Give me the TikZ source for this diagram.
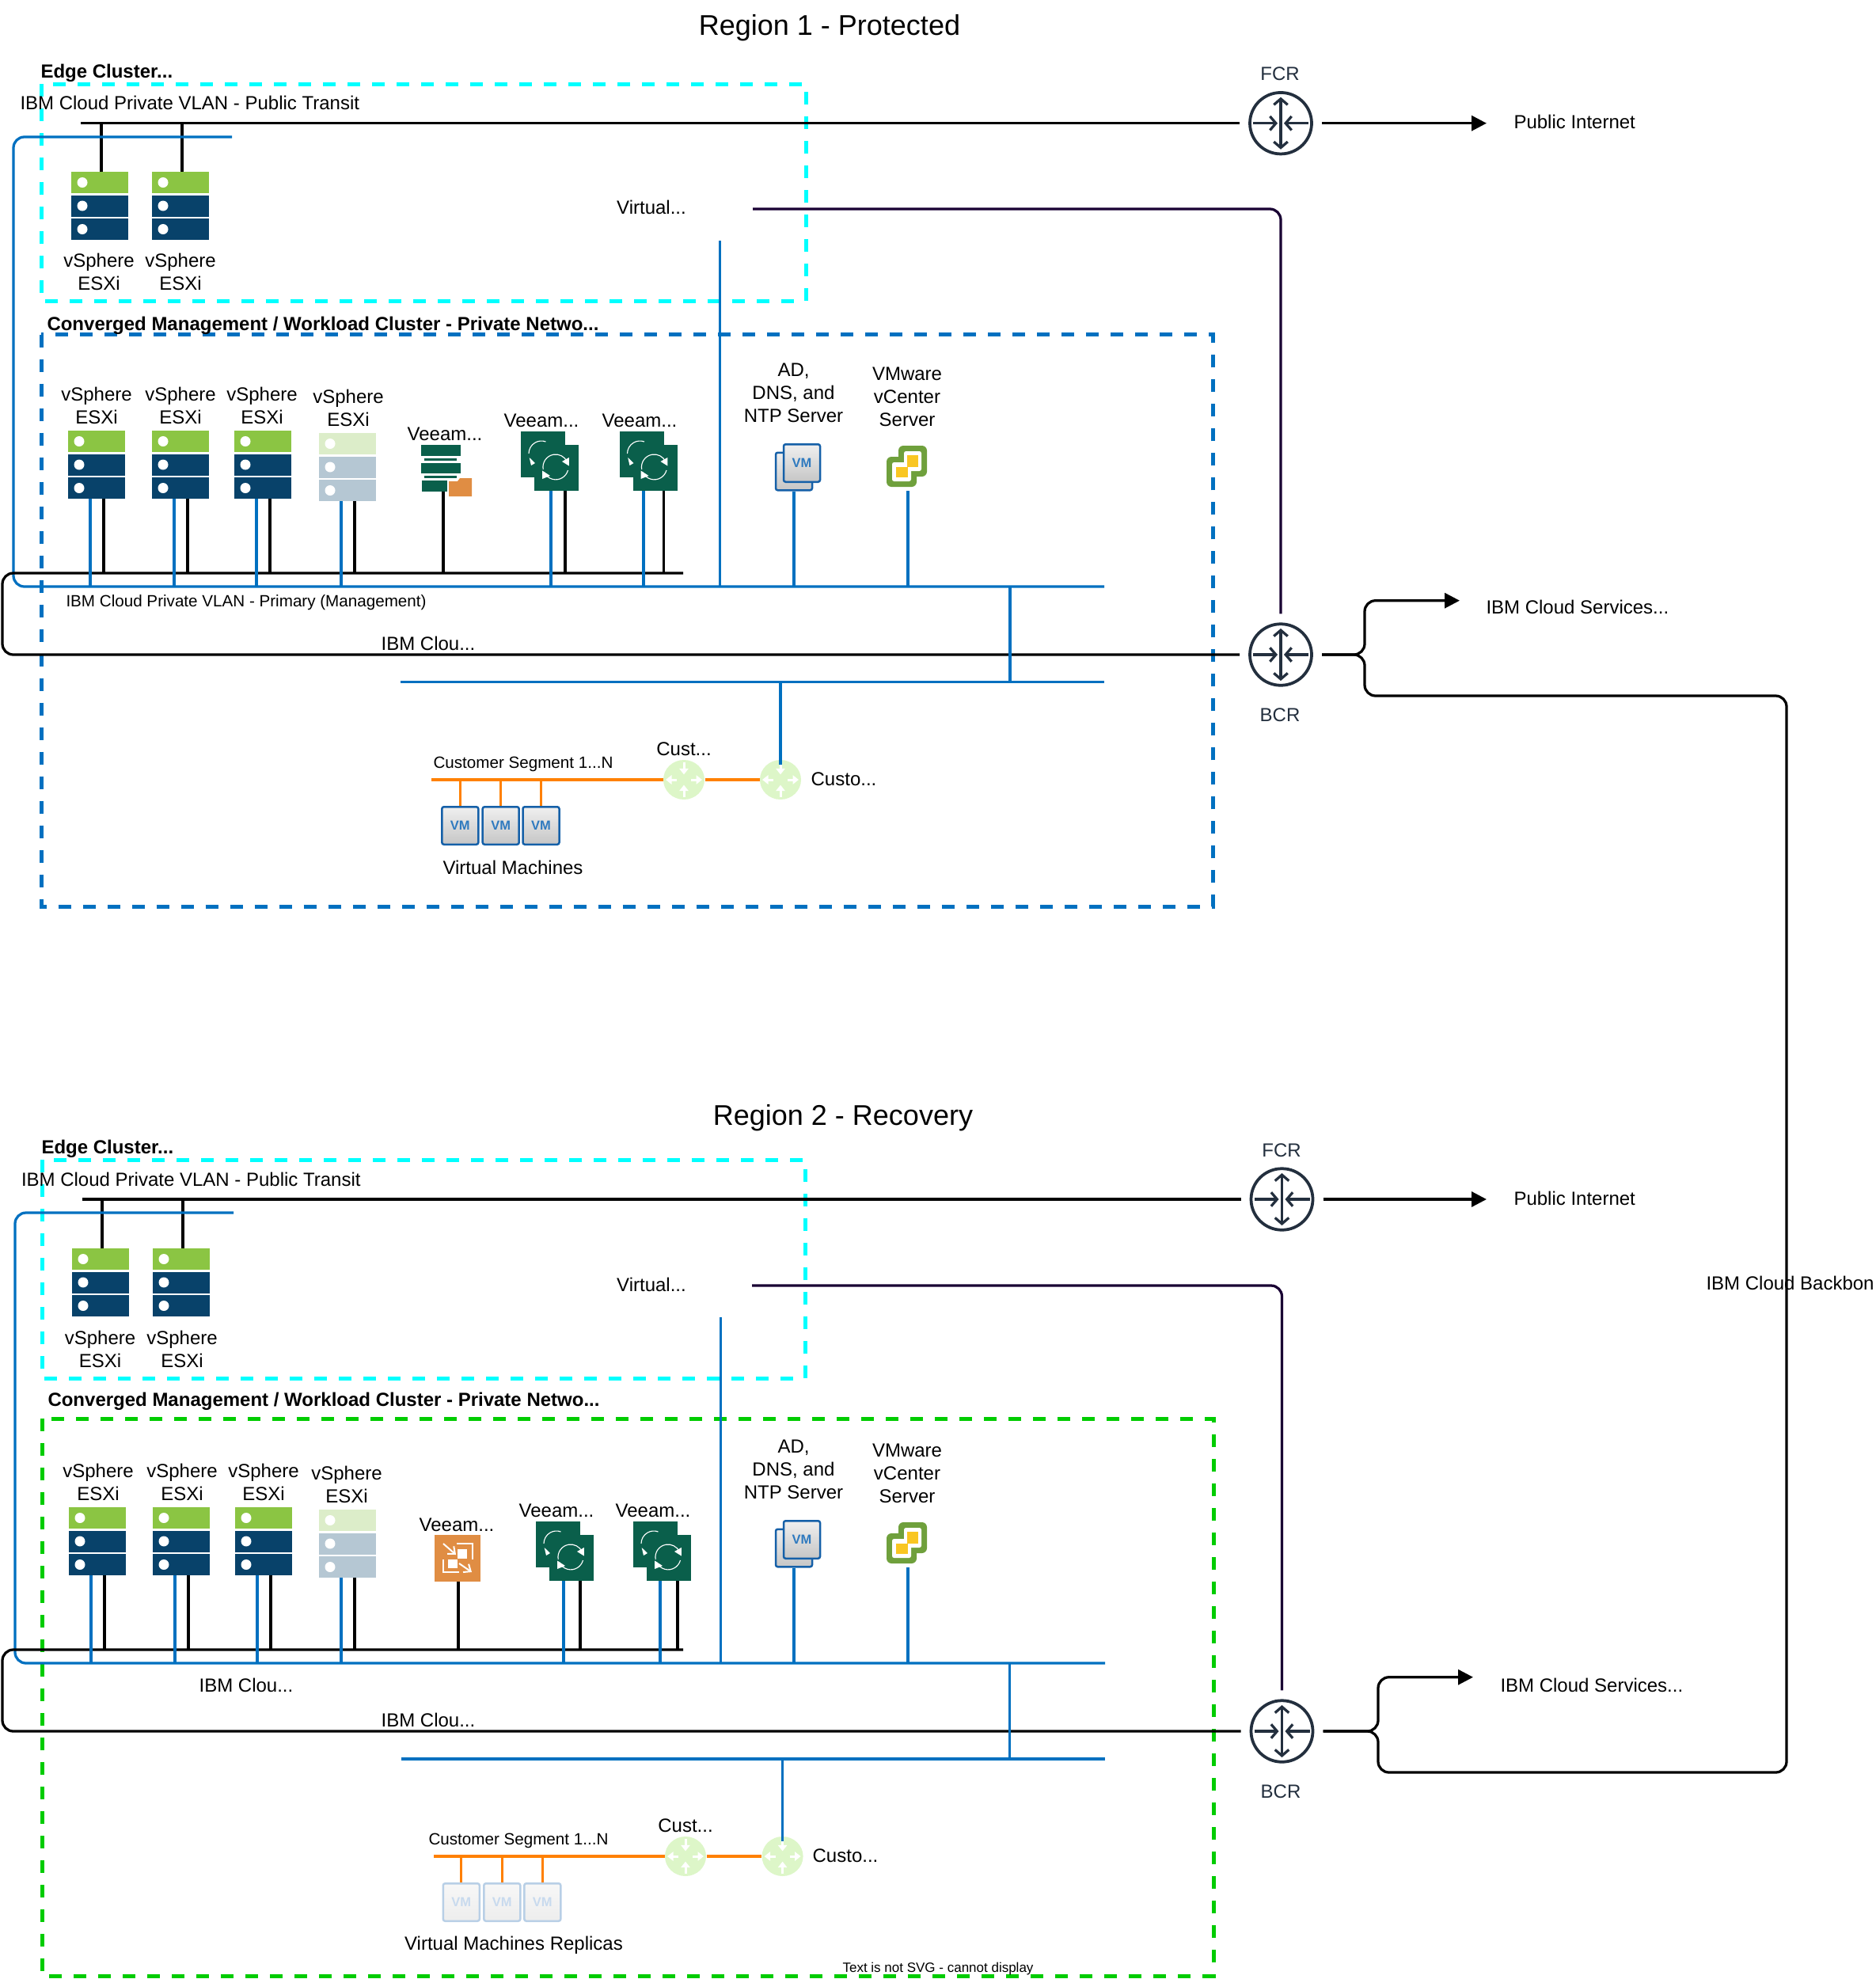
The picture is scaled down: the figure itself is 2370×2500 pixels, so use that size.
\documentclass[tikz,border=0pt]{standalone}
\usepackage{fontspec}
\setmainfont{Liberation Sans}
\usetikzlibrary{shapes.geometric,arrows.meta}

\definecolor{esxgreen}{HTML}{8BC543}
\definecolor{esxblue}{HTML}{08426A}
\definecolor{esxgreenfade}{HTML}{DCEDC9}
\definecolor{esxbluefade}{HTML}{B5C7D3}
\definecolor{veeamgreen}{HTML}{0A5F4B}
\definecolor{veeamorange}{HTML}{E08D43}
\definecolor{netblue}{HTML}{0070C0}
\definecolor{netorange}{HTML}{FF8000}
\definecolor{netdark}{HTML}{190033}
\definecolor{routerdark}{HTML}{232F3E}
\definecolor{routerpale}{HTML}{DDF6C8}
\definecolor{vmblue}{HTML}{1560A8}
\definecolor{vmtext}{HTML}{2F7ABF}
\definecolor{vmbluefade}{HTML}{B8CFE6}
\definecolor{vmtextfade}{HTML}{C8DAEE}
\definecolor{vcgreen}{HTML}{6FA03C}
\definecolor{vcyellow}{HTML}{F9C622}
\definecolor{boxcyan}{HTML}{00FFFF}
\definecolor{boxgreen}{HTML}{00CC00}

\tikzset{
  lbl/.style={inner sep=0pt,align=center,font=\fontsize{9.6}{11.6}\selectfont},
  lblsmall/.style={inner sep=0pt,anchor=west,font=\fontsize{8.25}{10}\selectfont},
  lblbold/.style={inner sep=0pt,anchor=west,font=\fontsize{9.6}{11.6}\bfseries\selectfont},
  lbltitle/.style={inner sep=0pt,font=\fontsize{14.4}{17}\selectfont},
  lblwest/.style={lbl,anchor=west},
  boxdash/.style={line width=2pt,dash pattern=on 6.4pt off 6pt},
  linkblack/.style={line width=1.3pt,black},
  linkblue/.style={line width=1.3pt,netblue},
  linkorange/.style={line width=1.3pt,netorange},
  linkdark/.style={line width=1.3pt,netdark},
  roundbend/.style={rounded corners=5.5pt},
  tipend/.style={-{Triangle[length=7.6pt,width=7.6pt]}},
  vmbox/.style={rectangle,draw=vmblue,line width=1pt,rounded corners=1pt,top color=gray!12,bottom color=gray!45,
    minimum width=18.4pt,minimum height=19pt,inner sep=0pt,text=vmtext,font=\fontsize{6.6}{7}\bfseries\selectfont},
  vmfade/.style={vmbox,draw=vmbluefade,top color=gray!6,bottom color=gray!14,text=vmtextfade},
  pics/esxi/.style n args={2}{code={
    \fill[#1] (0,0) rectangle (72,27);
    \fill[#2] (0,29.5) rectangle (72,56.5);
    \fill[#2] (0,59) rectangle (72,86);
    \foreach \y in {13.5,43,72.5} \fill[white] (14,\y) circle[radius=2.6pt];
    \coordinate (-t) at (38,0);
    \coordinate (-b) at (28,86);
    \coordinate (-k) at (45,86);
  }},
  pics/veeamproxy/.style={code={
    \fill[veeamgreen] (0,0) rectangle (49.5,14);
    \fill[veeamgreen] (3.6,17) rectangle (45.4,20);
    \fill[veeamgreen] (0,23) rectangle (49.5,36);
    \fill[veeamgreen] (3.6,39) rectangle (45.4,42);
    \fill[veeamgreen] (1,45) rectangle (33,59);
    \fill[veeamorange] (35,46) -- (46,46) -- (49,42) -- (64,42) -- (64,65) -- (35,65) -- cycle;
    \coordinate (-k) at (28,59);
  }},
  pics/veeambox/.style={code={
    \fill[veeamorange] (0,0) rectangle (58,59);
    \fill[white] (29,18) rectangle (41,30);
    \fill[white] (17,31) rectangle (29,42);
    \draw[white,line width=.8pt,-{Straight Barb[length=3pt,width=5pt]}] (11,11) -- (27,25);
    \draw[white,line width=.8pt,-{Straight Barb[length=3pt,width=5pt]}] (31,36) -- (47,47);
    \draw[white,line width=.6pt] (28,11) -- (48,11) -- (48,31);
    \draw[white,line width=.6pt] (11,31) -- (11,47) -- (31,47);
    \coordinate (-k) at (30,59);
  }},
  pics/veeamrep/.style={code={
    \fill[veeamgreen] (0,0) rectangle (56,58);
    \fill[veeamgreen] (17,17) rectangle (73,75);
    \draw[white,line width=.45pt] (10,28) arc[start angle=180,end angle=70,radius=6.4pt];
    \fill[white] (10.7,33) -- (18,40) -- (13,43) -- cycle;
    \draw[white,line width=.45pt] (28.2,47.8) arc[start angle=190,end angle=25,radius=6.4pt];
    \fill[white] (60.8,43.5) -- (60.8,33) -- (52,38) -- cycle;
    \draw[white,line width=.45pt] (59.5,49) arc[start angle=-15,end angle=-155,radius=6.4pt];
    \fill[white] (27,49.5) -- (27,60) -- (37,56) -- cycle;
    \coordinate (-b) at (#1,75);
    \coordinate (-k) at (56,75);
  }},
  pics/vcenter/.style={code={
    \fill[vcgreen,rounded corners=2.5pt] (15,0) rectangle (51,39);
    \fill[vcgreen,rounded corners=2.5pt] (0,14) rectangle (38,52);
    \fill[white,rounded corners=1pt] (22,7) rectangle (44,32);
    \fill[white,rounded corners=1pt] (7,21) rectangle (31,45);
    \fill[vcyellow] (26,12) rectangle (40,27);
    \fill[vcyellow] (12,27) rectangle (27,40);
    \coordinate (-p) at (27,57);
  }},
  pics/corerouter/.style={code={
    \node[ellipse,draw=routerdark,line width=1.5pt,inner sep=0pt,minimum width=31.2pt,minimum height=31pt,outer sep=5.2pt] (-c) at (0,0) {};
    \draw[routerdark,line width=1.3pt,{Straight Barb[length=3pt,width=7pt]}-{Straight Barb[length=3pt,width=7pt]}] (0,-33) -- (0,33);
    \draw[routerdark,line width=1.3pt,-{Straight Barb[length=3pt,width=7pt]}] (-35,0) -- (-4,0);
    \draw[routerdark,line width=1.3pt,-{Straight Barb[length=3pt,width=7pt]}] (35,0) -- (4,0);
  }},
  pics/custrouter/.style={code={
    \node[ellipse,fill=routerpale,inner sep=0pt,minimum width=20.8pt,minimum height=20pt] (-c) at (0,0) {};
    \foreach \a/\b in {0/-22,0/22} \draw[white,line width=1.2pt,-{Triangle[length=3pt,width=4.5pt]}] (\a,\b) -- (\a,\b*0.3);
    \foreach \a/\b in {-9/-23,9/23} \draw[white,line width=1.2pt,-{Triangle[length=3pt,width=4.5pt]}] (\a,0) -- (\b,0);
    \coordinate (-d) at (0,-19);
  }},
}

\begin{document}
\begin{tikzpicture}[x=0.4pt,y=-0.4pt]
\useasboundingbox (0,0) rectangle (2370,2500);

% Region 1
\node[lbltitle] (titleA) at (1048,35) {Region 1 - Protected};
\draw[boxdash,boxcyan] (52,106) rectangle (1018,380);
\draw[boxdash,netblue] (52,422.5) rectangle (1532,1145);
\node[lblbold] (edgelblA) at (51,92) {Edge Cluster...};
\node[lblwest] (transitlblA) at (25,130) {IBM Cloud Private VLAN - Public Transit};
\node[lblbold] (convlblA) at (59,411) {Converged Management / Workload Cluster - Private Netwo...};
\node[lbl] (virtlblA) at (823,262) {Virtual...};

\pic (edgeA1) at (90,217) {esxi={esxgreen}{esxblue}};
\pic (edgeA2) at (192,217) {esxi={esxgreen}{esxblue}};
\node[lbl] (edgelblA1) at (125,343) {vSphere\\ESXi};
\node[lbl] (edgelblA2) at (228,343) {vSphere\\ESXi};

\pic (esxA1) at (86,544) {esxi={esxgreen}{esxblue}};
\pic (esxA2) at (192,544) {esxi={esxgreen}{esxblue}};
\pic (esxA3) at (296,544) {esxi={esxgreen}{esxblue}};
\pic (esxA4) at (403,547) {esxi={esxgreenfade}{esxbluefade}};
\node[lbl] (esxlblA1) at (122,512) {vSphere\\ESXi};
\node[lbl] (esxlblA2) at (228,512) {vSphere\\ESXi};
\node[lbl] (esxlblA3) at (331,512) {vSphere\\ESXi};
\node[lbl] (esxlblA4) at (440,515) {vSphere\\ESXi};

\pic (proxyA) at (532,562) {veeamproxy};
\pic (repA1) at (658,545) {veeamrep=38};
\pic (repA2) at (782.5,545) {veeamrep=30.5};
\node[lbl] (proxylblA) at (562,548) {Veeam...};
\node[lbl] (replblA1) at (684,531) {Veeam...};
\node[lbl] (replblA2) at (808,531) {Veeam...};

\node[vmbox] (adbackA) at (1003,595.5) {};
\node[vmbox] (adA) at (1013,585) {VM};
\pic (vcA) at (1120,563) {vcenter};
\node[lbl] (adlblA) at (1002.5,496) {AD,\\DNS, and\\NTP Server};
\node[lbl] (vclblA) at (1146,501) {VMware\\vCenter\\Server};

\coordinate (transitAl) at (102,155.7);
\coordinate (loopA) at (293,173);
\coordinate (mgmtA) at (1395,741);
\coordinate (coreA) at (863,724);
\coordinate (vtepA) at (909.5,304);
\coordinate (upA) at (1276,741);
\coordinate (lowerAl) at (505.5,861.5);
\coordinate (lowerAr) at (1395,861.5);
\coordinate (virtA) at (951,264);

\pic (fcrA) at (1618,155.7) {corerouter};
\pic (bcrA) at (1618,827) {corerouter};
\node[lbl,text=routerdark] (fcrlblA) at (1617,93) {FCR};
\node[lbl,text=routerdark] (bcrlblA) at (1617,903) {BCR};
\node[lblwest] (inetA) at (1912,154) {Public Internet};
\node[lblwest] (svcA) at (1877,767) {IBM Cloud Services...};
\coordinate (inettipA) at (1878,155.7);
\coordinate (svctipA) at (1844,758.7);

\draw[linkblack] (transitAl) -- (fcrA-c.west);
\draw[linkblack,tipend] (fcrA-c.east) -- (inettipA);
\foreach \n in {edgeA1,edgeA2} \draw[linkblack] (\n-t |- transitAl) -- (\n-t);
\draw[linkblue,roundbend] (loopA) -- (17,173) -- (17,741) -- (mgmtA);
\draw[linkblack,roundbend] (coreA) -- (3,724) -- (3,827) -- (bcrA-c.west);
\draw[linkdark,roundbend] (virtA) -| (bcrA-c.north);
\draw[linkblue] (vtepA) -- (vtepA |- mgmtA);
\foreach \n in {esxA1,esxA2,esxA3,esxA4,repA1,repA2} \draw[linkblue] (\n-b) -- (\n-b |- mgmtA);
\foreach \n in {esxA1,esxA2,esxA3,esxA4,proxyA,repA1,repA2} \draw[linkblack] (\n-k) -- (\n-k |- coreA);
\draw[linkblue] (adbackA.south) -- (adbackA.south |- mgmtA);
\draw[linkblue] (vcA-p) -- (vcA-p |- mgmtA);
\draw[linkblue] (upA) -- (upA |- lowerAr);
\draw[linkblue] (lowerAl) -- (lowerAr);
\draw[linkblack,roundbend,tipend] (bcrA-c.east) -- (1724,827) -- (1724,758.7) -- (svctipA);

\node[lblsmall] (primlblA) at (83,761) {IBM Cloud Private VLAN - Primary (Management)};
\node[lbl] (cloulblA) at (541,813) {IBM Clou...};

\pic (custA) at (864,985) {custrouter};
\pic (custoA) at (986,985) {custrouter};
\node[lbl] (custlblA) at (864,946) {Cust...};
\node[lbl] (custolblA) at (1066,984) {Custo...};
\node[lblsmall] (seglblA) at (547,965.5) {Customer Segment 1...N};
\coordinate (segA) at (545,985);
\node[vmbox] (vmA1) at (581.3,1043) {VM};
\node[vmbox] (vmA2) at (632.7,1043) {VM};
\node[vmbox] (vmA3) at (683.5,1043) {VM};
\node[lbl] (vmlblA) at (648,1096) {Virtual Machines};
\draw[linkblue] (custoA-d |- lowerAr) -- (custoA-d);
\draw[linkorange] (segA) -- (custA-c.west);
\draw[linkorange] (custA-c.east) -- (custoA-c.west);
\foreach \n in {vmA1,vmA2,vmA3} \draw[linkorange] (\n.north |- segA) -- (\n.north);

% Region 2
\node[lbltitle] (titleB) at (1065,1412) {Region 2 - Recovery};
\draw[boxdash,boxcyan] (53,1465) rectangle (1017,1741);
\draw[boxdash,boxgreen] (53,1792) rectangle (1533,2496);
\node[lblbold] (edgelblB) at (52,1451.5) {Edge Cluster...};
\node[lblwest] (transitlblB) at (26.5,1490) {IBM Cloud Private VLAN - Public Transit};
\node[lblbold] (convlblB) at (60,1770.5) {Converged Management / Workload Cluster - Private Netwo...};
\node[lbl] (virtlblB) at (823,1623) {Virtual...};

\pic (edgeB1) at (91,1577) {esxi={esxgreen}{esxblue}};
\pic (edgeB2) at (193,1577) {esxi={esxgreen}{esxblue}};
\node[lbl] (edgelblB1) at (126.5,1704) {vSphere\\ESXi};
\node[lbl] (edgelblB2) at (230,1704) {vSphere\\ESXi};

\pic (esxB1) at (87,1904) {esxi={esxgreen}{esxblue}};
\pic (esxB2) at (193,1904) {esxi={esxgreen}{esxblue}};
\pic (esxB3) at (297,1904) {esxi={esxgreen}{esxblue}};
\pic (esxB4) at (403,1907) {esxi={esxgreenfade}{esxbluefade}};
\node[lbl] (esxlblB1) at (124,1872) {vSphere\\ESXi};
\node[lbl] (esxlblB2) at (230,1872) {vSphere\\ESXi};
\node[lbl] (esxlblB3) at (333,1872) {vSphere\\ESXi};
\node[lbl] (esxlblB4) at (438,1875) {vSphere\\ESXi};

\pic (proxyB) at (549,1939) {veeambox};
\pic (repB1) at (677,1922) {veeamrep=35};
\pic (repB2) at (800,1922) {veeamrep=34};
\node[lbl] (proxylblB) at (577,1926) {Veeam...};
\node[lbl] (replblB1) at (703,1908) {Veeam...};
\node[lbl] (replblB2) at (825,1908) {Veeam...};

\node[vmbox] (adbackB) at (1003,1955.5) {};
\node[vmbox] (adB) at (1013,1945) {VM};
\pic (vcB) at (1120,1923) {vcenter};
\node[lbl] (adlblB) at (1002.5,1856) {AD,\\DNS, and\\NTP Server};
\node[lbl] (vclblB) at (1146,1861) {VMware\\vCenter\\Server};

\coordinate (transitBl) at (104,1515);
\coordinate (loopB) at (295,1532);
\coordinate (mgmtB) at (1396,2101);
\coordinate (coreB) at (863,2084);
\coordinate (vtepB) at (910.5,1664);
\coordinate (upB) at (1275.5,2101);
\coordinate (lowerBl) at (507,2222);
\coordinate (lowerBr) at (1396,2222);
\coordinate (virtB) at (950,1624);

\pic (fcrB) at (1619.5,1515) {corerouter};
\pic (bcrB) at (1619.5,2187) {corerouter};
\node[lbl,text=routerdark] (fcrlblB) at (1619,1453) {FCR};
\node[lbl,text=routerdark] (bcrlblB) at (1618,2263) {BCR};
\node[lblwest] (inetB) at (1912,1514) {Public Internet};
\node[lblwest] (svcB) at (1895,2129) {IBM Cloud Services...};
\coordinate (inettipB) at (1878,1515);
\coordinate (svctipB) at (1861,2118.7);

\draw[linkblack] (transitBl) -- (fcrB-c.west);
\draw[linkblack,tipend] (fcrB-c.east) -- (inettipB);
\foreach \n in {edgeB1,edgeB2} \draw[linkblack] (\n-t |- transitBl) -- (\n-t);
\draw[linkblue,roundbend] (loopB) -- (19,1532) -- (19,2101) -- (mgmtB);
\draw[linkblack,roundbend] (coreB) -- (3,2084) -- (3,2187) -- (bcrB-c.west);
\draw[linkdark,roundbend] (virtB) -| (bcrB-c.north);
\draw[linkblue] (vtepB) -- (vtepB |- mgmtB);
\foreach \n in {esxB1,esxB2,esxB3,esxB4,repB1,repB2} \draw[linkblue] (\n-b) -- (\n-b |- mgmtB);
\foreach \n in {esxB1,esxB2,esxB3,esxB4,proxyB,repB1,repB2} \draw[linkblack] (\n-k) -- (\n-k |- coreB);
\draw[linkblue] (adbackB.south) -- (adbackB.south |- mgmtB);
\draw[linkblue] (vcB-p) -- (vcB-p |- mgmtB);
\draw[linkblue] (upB) -- (upB |- lowerBr);
\draw[linkblue] (lowerBl) -- (lowerBr);
\draw[linkblack,roundbend,tipend] (bcrB-c.east) -- (1741,2187) -- (1741,2118.7) -- (svctipB);

\node[lbl] (clouprimB) at (311,2129) {IBM Clou...};
\node[lbl] (cloulblB) at (541,2173) {IBM Clou...};

\pic (custB) at (866,2345) {custrouter};
\pic (custoB) at (988.6,2345) {custrouter};
\node[lbl] (custlblB) at (866,2306) {Cust...};
\node[lbl] (custolblB) at (1068,2344) {Custo...};
\node[lblsmall] (seglblB) at (541,2325.5) {Customer Segment 1...N};
\coordinate (segB) at (548,2345);
\node[vmfade] (vmB1) at (582.8,2403) {VM};
\node[vmfade] (vmB2) at (634.3,2403) {VM};
\node[vmfade] (vmB3) at (685.3,2403) {VM};
\node[lbl] (vmlblB) at (649,2457) {Virtual Machines Replicas};
\draw[linkblue] (custoB-d |- lowerBr) -- (custoB-d);
\draw[linkorange] (segB) -- (custB-c.west);
\draw[linkorange] (custB-c.east) -- (custoB-c.west);
\foreach \n in {vmB1,vmB2,vmB3} \draw[linkorange] (\n.north |- segB) -- (\n.north);

% backbone between the two BCRs
\draw[linkblack,roundbend] (bcrA-c.east) -- (1724,827) -- (1724,879) -- (2257,879) -- (2257,2239) -- (1741,2239) -- (1741,2187) -- (bcrB-c.east);
\node[lblwest] (backbonelbl) at (2155,1621) {IBM Cloud Backbon};
\node[inner sep=0pt,font=\fontsize{6.8}{8}\selectfont] (svgnote) at (1185,2487) {Text is not SVG - cannot display};

\end{tikzpicture}
\end{document}
